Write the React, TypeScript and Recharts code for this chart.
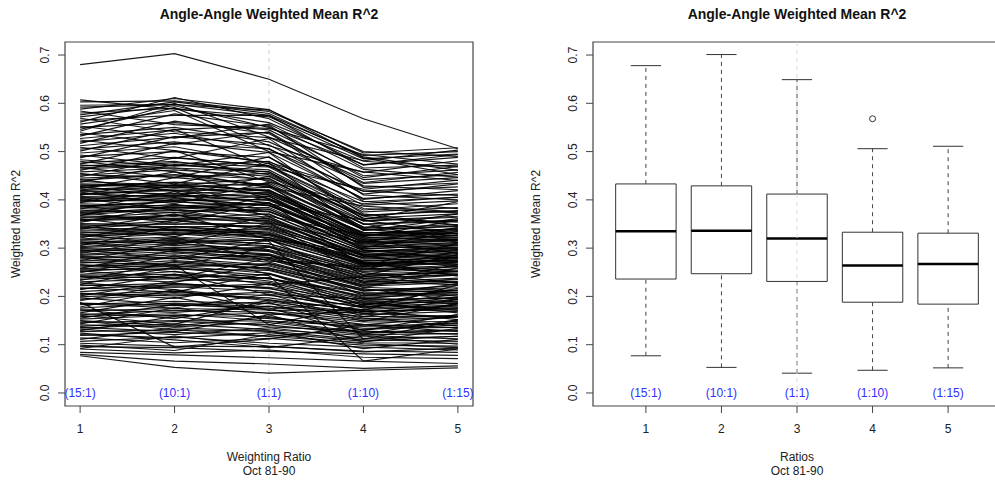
import {
  ComposedChart,
  Line,
  XAxis,
  YAxis,
  Label,
  ReferenceArea,
  ReferenceLine,
  ReferenceDot,
} from 'recharts'

const FONT = '"Liberation Sans", Arial, Helvetica, sans-serif'
const INK = '#444'
const LABEL_BLUE = '#2f2fff'

const chartTitle = 'Angle-Angle Weighted Mean R^2'
const yTitle = 'Weighted Mean R^2'
const leftXTitle = ['Weighting Ratio', 'Oct 81-90']
const rightXTitle = ['Ratios', 'Oct 81-90']

const ratioTicks = [1, 2, 3, 4, 5]
const ratioLabels = ['(15:1)', '(10:1)', '(1:1)', '(1:10)', '(1:15)']
const yTicks = [0, 0.1, 0.2, 0.3, 0.4, 0.5, 0.6, 0.7]

// one row per site: weighted mean R^2 at ratios 1..5
const siteSeries: number[][] = [
  [0.077, 0.053, 0.041, 0.047, 0.052],
  [0.080, 0.066, 0.060, 0.051, 0.056],
  [0.084, 0.079, 0.073, 0.066, 0.061],
  [0.091, 0.083, 0.089, 0.074, 0.071],
  [0.096, 0.094, 0.086, 0.081, 0.078],
  [0.103, 0.097, 0.096, 0.087, 0.084],
  [0.107, 0.116, 0.103, 0.095, 0.089],
  [0.114, 0.104, 0.113, 0.099, 0.097],
  [0.119, 0.126, 0.117, 0.104, 0.103],
  [0.127, 0.131, 0.128, 0.110, 0.107],
  [0.132, 0.121, 0.135, 0.113, 0.117],
  [0.138, 0.148, 0.141, 0.121, 0.123],
  [0.146, 0.150, 0.149, 0.126, 0.131],
  [0.150, 0.139, 0.156, 0.134, 0.136],
  [0.158, 0.164, 0.149, 0.138, 0.144],
  [0.162, 0.171, 0.167, 0.147, 0.148],
  [0.170, 0.175, 0.172, 0.150, 0.157],
  [0.174, 0.167, 0.180, 0.158, 0.159],
  [0.183, 0.190, 0.185, 0.162, 0.169],
  [0.188, 0.095, 0.112, 0.141, 0.158],
  [0.194, 0.205, 0.197, 0.169, 0.172],
  [0.204, 0.211, 0.191, 0.173, 0.180],
  [0.210, 0.220, 0.211, 0.176, 0.182],
  [0.222, 0.227, 0.216, 0.183, 0.175],
  [0.230, 0.237, 0.229, 0.185, 0.189],
  [0.238, 0.252, 0.232, 0.190, 0.186],
  [0.244, 0.246, 0.237, 0.194, 0.196],
  [0.246, 0.258, 0.243, 0.066, 0.091],
  [0.252, 0.263, 0.248, 0.198, 0.205],
  [0.255, 0.257, 0.254, 0.204, 0.208],
  [0.261, 0.270, 0.256, 0.206, 0.213],
  [0.263, 0.274, 0.263, 0.212, 0.218],
  [0.269, 0.279, 0.265, 0.214, 0.209],
  [0.271, 0.265, 0.141, 0.183, 0.204],
  [0.277, 0.286, 0.271, 0.221, 0.229],
  [0.279, 0.290, 0.277, 0.227, 0.231],
  [0.285, 0.293, 0.280, 0.229, 0.238],
  [0.287, 0.298, 0.286, 0.235, 0.229],
  [0.293, 0.299, 0.288, 0.237, 0.245],
  [0.295, 0.306, 0.295, 0.244, 0.248],
  [0.301, 0.309, 0.297, 0.246, 0.253],
  [0.303, 0.314, 0.303, 0.250, 0.257],
  [0.309, 0.316, 0.305, 0.255, 0.261],
  [0.311, 0.321, 0.309, 0.257, 0.264],
  [0.317, 0.323, 0.314, 0.111, 0.151],
  [0.319, 0.330, 0.316, 0.261, 0.269],
  [0.325, 0.332, 0.321, 0.264, 0.271],
  [0.327, 0.337, 0.322, 0.267, 0.274],
  [0.331, 0.339, 0.328, 0.270, 0.276],
  [0.335, 0.340, 0.329, 0.273, 0.280],
  [0.337, 0.344, 0.331, 0.268, 0.275],
  [0.343, 0.336, 0.340, 0.271, 0.266],
  [0.345, 0.357, 0.338, 0.274, 0.281],
  [0.351, 0.349, 0.352, 0.277, 0.285],
  [0.356, 0.368, 0.349, 0.280, 0.272],
  [0.357, 0.361, 0.360, 0.283, 0.290],
  [0.363, 0.374, 0.355, 0.285, 0.294],
  [0.367, 0.362, 0.371, 0.288, 0.283],
  [0.369, 0.381, 0.364, 0.291, 0.299],
  [0.375, 0.378, 0.377, 0.294, 0.302],
  [0.377, 0.391, 0.369, 0.296, 0.291],
  [0.383, 0.385, 0.384, 0.299, 0.306],
  [0.387, 0.397, 0.380, 0.302, 0.309],
  [0.389, 0.383, 0.392, 0.305, 0.298],
  [0.395, 0.404, 0.388, 0.308, 0.315],
  [0.399, 0.398, 0.401, 0.311, 0.319],
  [0.401, 0.413, 0.394, 0.314, 0.308],
  [0.407, 0.409, 0.408, 0.317, 0.323],
  [0.411, 0.420, 0.403, 0.320, 0.327],
  [0.413, 0.405, 0.415, 0.322, 0.316],
  [0.419, 0.427, 0.411, 0.325, 0.331],
  [0.421, 0.431, 0.420, 0.327, 0.334],
  [0.425, 0.418, 0.426, 0.329, 0.322],
  [0.429, 0.436, 0.417, 0.331, 0.338],
  [0.433, 0.429, 0.410, 0.333, 0.330],
  [0.438, 0.430, 0.445, 0.338, 0.346],
  [0.445, 0.452, 0.430, 0.344, 0.337],
  [0.451, 0.462, 0.449, 0.350, 0.358],
  [0.458, 0.466, 0.440, 0.356, 0.364],
  [0.464, 0.472, 0.462, 0.362, 0.354],
  [0.470, 0.480, 0.452, 0.368, 0.377],
  [0.476, 0.488, 0.470, 0.375, 0.384],
  [0.483, 0.470, 0.480, 0.382, 0.373],
  [0.490, 0.500, 0.488, 0.389, 0.398],
  [0.497, 0.510, 0.475, 0.396, 0.405],
  [0.505, 0.520, 0.498, 0.403, 0.412],
  [0.512, 0.530, 0.540, 0.410, 0.400],
  [0.520, 0.538, 0.505, 0.418, 0.427],
  [0.527, 0.545, 0.555, 0.426, 0.435],
  [0.535, 0.550, 0.520, 0.434, 0.446],
  [0.542, 0.600, 0.530, 0.442, 0.452],
  [0.550, 0.560, 0.545, 0.450, 0.462],
  [0.557, 0.585, 0.500, 0.458, 0.440],
  [0.565, 0.575, 0.575, 0.466, 0.472],
  [0.572, 0.595, 0.550, 0.473, 0.488],
  [0.580, 0.590, 0.560, 0.480, 0.468],
  [0.588, 0.610, 0.587, 0.487, 0.452],
  [0.596, 0.598, 0.575, 0.492, 0.500],
  [0.603, 0.605, 0.583, 0.500, 0.490],
  [0.680, 0.703, 0.650, 0.568, 0.506],
  [0.092, 0.118, 0.097, 0.085, 0.093],
  [0.099, 0.088, 0.121, 0.102, 0.094],
  [0.111, 0.135, 0.128, 0.092, 0.111],
  [0.124, 0.110, 0.094, 0.118, 0.101],
  [0.129, 0.158, 0.137, 0.128, 0.122],
  [0.136, 0.127, 0.162, 0.106, 0.134],
  [0.143, 0.176, 0.154, 0.141, 0.127],
  [0.149, 0.131, 0.118, 0.132, 0.146],
  [0.155, 0.183, 0.176, 0.122, 0.152],
  [0.161, 0.142, 0.193, 0.155, 0.139],
  [0.166, 0.198, 0.162, 0.168, 0.175],
  [0.172, 0.154, 0.187, 0.129, 0.163],
  [0.178, 0.214, 0.171, 0.172, 0.152],
  [0.185, 0.176, 0.205, 0.148, 0.186],
  [0.191, 0.226, 0.218, 0.164, 0.194],
  [0.197, 0.183, 0.174, 0.189, 0.171],
  [0.201, 0.232, 0.239, 0.176, 0.199],
  [0.207, 0.196, 0.226, 0.158, 0.184],
  [0.214, 0.246, 0.204, 0.195, 0.213],
  [0.218, 0.209, 0.248, 0.187, 0.166],
  [0.225, 0.261, 0.236, 0.208, 0.201],
  [0.228, 0.214, 0.193, 0.171, 0.224],
  [0.233, 0.272, 0.258, 0.216, 0.192],
  [0.241, 0.229, 0.268, 0.223, 0.235],
  [0.249, 0.284, 0.247, 0.181, 0.217],
  [0.253, 0.238, 0.279, 0.232, 0.244],
  [0.258, 0.296, 0.286, 0.201, 0.226],
  [0.266, 0.251, 0.224, 0.241, 0.252],
  [0.274, 0.311, 0.294, 0.218, 0.259],
  [0.281, 0.263, 0.302, 0.249, 0.227],
  [0.289, 0.322, 0.273, 0.262, 0.281],
  [0.297, 0.277, 0.318, 0.229, 0.266],
  [0.305, 0.345, 0.333, 0.271, 0.242],
  [0.313, 0.292, 0.281, 0.256, 0.293],
  [0.321, 0.358, 0.341, 0.284, 0.261],
  [0.329, 0.307, 0.352, 0.243, 0.287],
  [0.339, 0.371, 0.318, 0.292, 0.305],
  [0.347, 0.324, 0.366, 0.268, 0.252],
  [0.353, 0.389, 0.376, 0.309, 0.318],
  [0.361, 0.338, 0.322, 0.281, 0.296],
  [0.368, 0.402, 0.389, 0.318, 0.289],
  [0.374, 0.352, 0.395, 0.262, 0.311],
  [0.381, 0.417, 0.366, 0.327, 0.341],
  [0.388, 0.365, 0.408, 0.296, 0.279],
  [0.394, 0.431, 0.419, 0.339, 0.326],
  [0.403, 0.379, 0.352, 0.312, 0.343],
  [0.409, 0.446, 0.431, 0.301, 0.335],
  [0.416, 0.392, 0.437, 0.351, 0.312],
  [0.423, 0.458, 0.402, 0.324, 0.358],
  [0.428, 0.407, 0.449, 0.366, 0.347],
  [0.436, 0.473, 0.458, 0.342, 0.371],
  [0.442, 0.419, 0.392, 0.358, 0.329],
  [0.448, 0.487, 0.471, 0.379, 0.392],
  [0.455, 0.433, 0.476, 0.336, 0.361],
  [0.461, 0.502, 0.437, 0.392, 0.406],
  [0.467, 0.446, 0.489, 0.371, 0.348],
  [0.474, 0.517, 0.506, 0.401, 0.419],
  [0.480, 0.458, 0.426, 0.387, 0.375],
  [0.487, 0.531, 0.514, 0.412, 0.433],
  [0.493, 0.471, 0.498, 0.359, 0.396],
  [0.501, 0.546, 0.468, 0.422, 0.441],
  [0.509, 0.486, 0.527, 0.397, 0.382],
  [0.517, 0.563, 0.537, 0.436, 0.457],
  [0.524, 0.502, 0.478, 0.418, 0.409],
  [0.532, 0.578, 0.552, 0.446, 0.469],
  [0.539, 0.515, 0.541, 0.429, 0.421],
  [0.546, 0.591, 0.512, 0.457, 0.481],
  [0.553, 0.528, 0.557, 0.463, 0.447],
  [0.561, 0.612, 0.568, 0.472, 0.494],
  [0.569, 0.541, 0.529, 0.481, 0.503],
  [0.576, 0.603, 0.579, 0.489, 0.461],
  [0.584, 0.556, 0.548, 0.494, 0.474],
  [0.592, 0.597, 0.586, 0.497, 0.508],
  [0.607, 0.588, 0.572, 0.485, 0.495],
  [0.121, 0.114, 0.125, 0.107, 0.118],
  [0.134, 0.143, 0.131, 0.119, 0.112],
  [0.141, 0.137, 0.146, 0.124, 0.129],
  [0.153, 0.161, 0.158, 0.131, 0.141],
  [0.164, 0.159, 0.166, 0.142, 0.135],
  [0.176, 0.186, 0.179, 0.153, 0.161],
  [0.186, 0.181, 0.189, 0.165, 0.158],
  [0.199, 0.208, 0.202, 0.179, 0.186],
  [0.206, 0.201, 0.209, 0.168, 0.177],
  [0.216, 0.224, 0.219, 0.191, 0.198],
  [0.224, 0.219, 0.226, 0.178, 0.194],
  [0.235, 0.243, 0.238, 0.201, 0.208],
  [0.242, 0.238, 0.246, 0.196, 0.189],
  [0.257, 0.266, 0.259, 0.211, 0.222],
  [0.265, 0.261, 0.268, 0.219, 0.212],
  [0.273, 0.282, 0.276, 0.224, 0.236],
  [0.283, 0.278, 0.285, 0.232, 0.224],
  [0.291, 0.302, 0.293, 0.241, 0.251],
  [0.299, 0.296, 0.302, 0.238, 0.246],
  [0.307, 0.318, 0.309, 0.252, 0.262],
  [0.315, 0.311, 0.318, 0.259, 0.251],
  [0.323, 0.334, 0.326, 0.266, 0.278],
  [0.333, 0.328, 0.336, 0.262, 0.271],
  [0.341, 0.352, 0.344, 0.279, 0.288],
  [0.349, 0.344, 0.346, 0.286, 0.279],
  [0.359, 0.369, 0.361, 0.292, 0.301],
  [0.365, 0.359, 0.357, 0.287, 0.297],
  [0.372, 0.384, 0.375, 0.303, 0.312],
  [0.379, 0.374, 0.381, 0.298, 0.307],
  [0.385, 0.396, 0.388, 0.313, 0.321],
  [0.392, 0.387, 0.394, 0.306, 0.317],
  [0.397, 0.408, 0.399, 0.321, 0.331],
  [0.405, 0.399, 0.407, 0.316, 0.326],
  [0.412, 0.423, 0.414, 0.331, 0.339],
  [0.418, 0.412, 0.421, 0.326, 0.336],
  [0.426, 0.437, 0.428, 0.341, 0.349],
  [0.431, 0.426, 0.434, 0.337, 0.345],
  [0.441, 0.452, 0.443, 0.349, 0.356],
  [0.452, 0.447, 0.455, 0.357, 0.366],
  [0.466, 0.477, 0.468, 0.368, 0.378],
  [0.472, 0.466, 0.458, 0.362, 0.371],
]

// boxplot stats per ratio (right panel)
const boxMin = [0.077, 0.053, 0.041, 0.047, 0.052]
const boxQ1 = [0.236, 0.247, 0.231, 0.188, 0.184]
const boxMedian = [0.335, 0.336, 0.320, 0.264, 0.267]
const boxQ3 = [0.433, 0.429, 0.412, 0.333, 0.331]
const boxMax = [0.678, 0.701, 0.649, 0.506, 0.511]
const outlierX = [4]
const outlierY = [0.568]

const Y_DOMAIN: [number, number] = [-0.027, 0.727]

const lineRows = ratioTicks.map((x, j) => {
  const row: Record<string, number> = { x }
  siteSeries.forEach((s, i) => {
    row[`s${i}`] = s[j]
  })
  return row
})

const boxRows = ratioTicks.map((x, i) => ({
  x,
  min: boxMin[i],
  q1: boxQ1[i],
  median: boxMedian[i],
  q3: boxQ3[i],
  max: boxMax[i],
}))

function XTick({ x, y, payload }: any) {
  return (
    <text x={x} y={y + 18} textAnchor="middle" fontSize={12} fill="#222" fontFamily={FONT}>
      {payload.value}
    </text>
  )
}

function YTick({ x, y, payload }: any) {
  const cx = x - 11
  return (
    <text
      x={cx}
      y={y}
      dy="0.35em"
      textAnchor="middle"
      fontSize={12}
      fill="#222"
      fontFamily={FONT}
      transform={`rotate(-90 ${cx} ${y})`}
    >
      {payload.value.toFixed(1)}
    </text>
  )
}

function XTitle({ viewBox, lines }: any) {
  const { x, y, width } = viewBox
  return (
    <g>
      {lines.map((t: string, i: number) => (
        <text
          key={t}
          x={x + width / 2}
          y={y + 55 + i * 13.5}
          textAnchor="middle"
          fontSize={12}
          fill="#222"
          fontFamily={FONT}
        >
          {t}
        </text>
      ))}
    </g>
  )
}

// note: Label passes its own `offset`, so the shift goes in under another name
function YTitle({ viewBox, shift }: any) {
  const { x, y, height } = viewBox
  const cx = x + shift
  const cy = y + height / 2
  return (
    <text
      x={cx}
      y={cy}
      dy="0.35em"
      textAnchor="middle"
      fontSize={12}
      fill="#222"
      fontFamily={FONT}
      transform={`rotate(-90 ${cx} ${cy})`}
    >
      {yTitle}
    </text>
  )
}

function Title({ left, width }: { left: number; width: number }) {
  return (
    <div
      style={{
        position: 'absolute',
        top: 5,
        left,
        width,
        textAlign: 'center',
        fontFamily: FONT,
        fontWeight: 'bold',
        fontSize: 14,
        lineHeight: '18px',
        color: '#111',
      }}
    >
      {chartTitle}
    </div>
  )
}

function RatioLabels() {
  return (
    <>
      {ratioTicks.map((x, i) => (
        <ReferenceDot
          key={`lab-${x}`}
          x={x}
          y={0}
          r={0}
          fill="none"
          stroke="none"
          label={{ value: ratioLabels[i], position: 'center', fill: LABEL_BLUE, fontSize: 12, fontFamily: FONT }}
        />
      ))}
    </>
  )
}

function SpaghettiPanel() {
  return (
    <ComposedChart width={497} height={481} data={lineRows} margin={{ top: 42, right: 24, bottom: 0, left: 0 }}>
      <XAxis
        type="number"
        dataKey="x"
        domain={[0.84, 5.16]}
        ticks={ratioTicks}
        allowDataOverflow
        axisLine={false}
        tickLine={{ stroke: INK }}
        tickSize={7}
        tick={<XTick />}
        height={75}
        interval={0}
      >
        <Label content={<XTitle lines={leftXTitle} />} />
      </XAxis>
      <YAxis
        type="number"
        domain={Y_DOMAIN}
        ticks={yTicks}
        allowDataOverflow
        axisLine={false}
        tickLine={{ stroke: INK }}
        tickSize={7}
        tick={<YTick />}
        width={65}
        interval={0}
      >
        <Label content={<YTitle shift={16} />} />
      </YAxis>
      <ReferenceLine x={3} stroke="#cfcfcf" strokeDasharray="4 4" />
      {siteSeries.map((_, i) => (
        <Line
          key={`s${i}`}
          dataKey={`s${i}`}
          stroke="#000"
          strokeWidth={1.15}
          strokeOpacity={0.9}
          dot={false}
          activeDot={false}
          isAnimationActive={false}
        />
      ))}
      <RatioLabels />
      <ReferenceArea
        x1={0.84}
        x2={5.16}
        y1={Y_DOMAIN[0]}
        y2={Y_DOMAIN[1]}
        fill="none"
        stroke={INK}
        strokeWidth={1.2}
        ifOverflow="visible"
      />
    </ComposedChart>
  )
}

function BoxPanel() {
  return (
    <ComposedChart width={514} height={481} data={boxRows} margin={{ top: 42, right: 10, bottom: 0, left: 0 }}>
      <XAxis
        type="number"
        dataKey="x"
        domain={[0.3, 5.7]}
        ticks={ratioTicks}
        allowDataOverflow
        axisLine={false}
        tickLine={{ stroke: INK }}
        tickSize={7}
        tick={<XTick />}
        height={75}
        interval={0}
      >
        <Label content={<XTitle lines={rightXTitle} />} />
      </XAxis>
      <YAxis
        type="number"
        domain={Y_DOMAIN}
        ticks={yTicks}
        allowDataOverflow
        axisLine={false}
        tickLine={{ stroke: INK }}
        tickSize={7}
        tick={<YTick />}
        width={96}
        interval={0}
      >
        <Label content={<YTitle shift={39} />} />
      </YAxis>
      {boxRows.map((b) => (
        <ReferenceLine
          key={`wu-${b.x}`}
          segment={[{ x: b.x, y: b.q3 }, { x: b.x, y: b.max }]}
          stroke={INK}
          strokeDasharray="4 4"
        />
      ))}
      {boxRows.map((b) => (
        <ReferenceLine
          key={`wl-${b.x}`}
          segment={[{ x: b.x, y: b.min }, { x: b.x, y: b.q1 }]}
          stroke={INK}
          strokeDasharray="4 4"
        />
      ))}
      {boxRows.map((b) => (
        <ReferenceLine
          key={`cu-${b.x}`}
          segment={[{ x: b.x - 0.2, y: b.max }, { x: b.x + 0.2, y: b.max }]}
          stroke="#333"
        />
      ))}
      {boxRows.map((b) => (
        <ReferenceLine
          key={`cl-${b.x}`}
          segment={[{ x: b.x - 0.2, y: b.min }, { x: b.x + 0.2, y: b.min }]}
          stroke="#333"
        />
      ))}
      {boxRows.map((b) => (
        <ReferenceArea
          key={`box-${b.x}`}
          x1={b.x - 0.4}
          x2={b.x + 0.4}
          y1={b.q1}
          y2={b.q3}
          fill="#fff"
          fillOpacity={1}
          stroke="#333"
          strokeWidth={1}
        />
      ))}
      {boxRows.map((b) => (
        <ReferenceLine
          key={`med-${b.x}`}
          segment={[{ x: b.x - 0.4, y: b.median }, { x: b.x + 0.4, y: b.median }]}
          stroke="#000"
          strokeWidth={2.5}
        />
      ))}
      <ReferenceLine x={3} stroke="#d8d8d8" strokeDasharray="4 4" />
      {outlierX.map((x, i) => (
        <ReferenceDot key={`out-${x}`} x={x} y={outlierY[i]} r={3} fill="#fff" stroke="#333" strokeWidth={1} />
      ))}
      <RatioLabels />
      <ReferenceArea
        x1={0.3}
        x2={5.7}
        y1={Y_DOMAIN[0]}
        y2={Y_DOMAIN[1]}
        fill="none"
        stroke={INK}
        strokeWidth={1.2}
        ifOverflow="visible"
      />
    </ComposedChart>
  )
}

export default function App() {
  return (
    <div
      style={{
        position: 'absolute',
        top: 0,
        left: 0,
        width: 995,
        height: 481,
        overflow: 'hidden',
        background: '#fff',
      }}
    >
      <div style={{ position: 'absolute', left: 0, top: 0 }}>
        <SpaghettiPanel />
      </div>
      <div style={{ position: 'absolute', left: 497, top: 0 }}>
        <BoxPanel />
      </div>
      <Title left={65} width={408} />
      <Title left={593} width={408} />
    </div>
  )
}
